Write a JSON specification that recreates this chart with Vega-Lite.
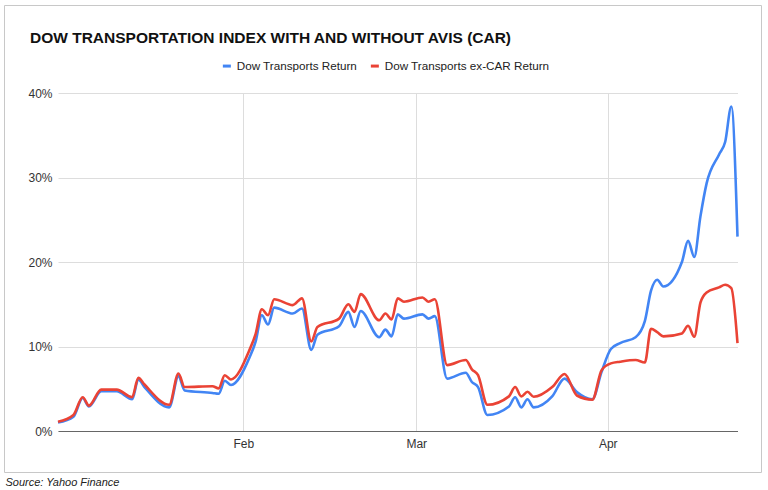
{
  "$schema": "https://vega.github.io/schema/vega-lite/v6.json",
  "autosize": "none",
  "width": 757,
  "height": 467,
  "padding": {"left": 4, "top": 5, "right": 7, "bottom": 18},
  "background": "white",
  "config": {
    "view": {"stroke": "#c8c8c8", "strokeWidth": 1},
    "font": "Liberation Sans"
  },
  "title": {
    "text": "DOW TRANSPORTATION INDEX WITH AND WITHOUT AVIS (CAR)",
    "anchor": "start",
    "frame": "group",
    "orient": "top",
    "offset": 0,
    "dx": 26,
    "dy": 53,
    "baseline": "alphabetic",
    "font": "Liberation Sans",
    "fontSize": 15.5,
    "fontWeight": "bold",
    "color": "#111111"
  },
  "data": {
    "values": [
      {"date": "2021-01-02T00:00:00Z", "Dow Transports Return": 1.0, "Dow Transports ex-CAR Return": 1.1},
      {"date": "2021-01-04T12:00:00Z", "Dow Transports Return": 1.7, "Dow Transports ex-CAR Return": 1.9},
      {"date": "2021-01-06T00:00:00Z", "Dow Transports Return": 3.9, "Dow Transports ex-CAR Return": 4.0},
      {"date": "2021-01-07T00:00:00Z", "Dow Transports Return": 2.9, "Dow Transports ex-CAR Return": 3.0},
      {"date": "2021-01-09T00:00:00Z", "Dow Transports Return": 4.7, "Dow Transports ex-CAR Return": 4.9},
      {"date": "2021-01-11T12:00:00Z", "Dow Transports Return": 4.7, "Dow Transports ex-CAR Return": 4.9},
      {"date": "2021-01-14T00:00:00Z", "Dow Transports Return": 3.75, "Dow Transports ex-CAR Return": 4.0},
      {"date": "2021-01-15T00:00:00Z", "Dow Transports Return": 6.1, "Dow Transports ex-CAR Return": 6.3},
      {"date": "2021-01-16T00:00:00Z", "Dow Transports Return": 5.2, "Dow Transports ex-CAR Return": 5.5},
      {"date": "2021-01-20T00:00:00Z", "Dow Transports Return": 2.8, "Dow Transports ex-CAR Return": 3.1},
      {"date": "2021-01-21T12:00:00Z", "Dow Transports Return": 6.5, "Dow Transports ex-CAR Return": 6.8},
      {"date": "2021-01-22T12:00:00Z", "Dow Transports Return": 4.8, "Dow Transports ex-CAR Return": 5.2},
      {"date": "2021-01-27T00:00:00Z", "Dow Transports Return": 4.5, "Dow Transports ex-CAR Return": 5.3},
      {"date": "2021-01-28T00:00:00Z", "Dow Transports Return": 4.4, "Dow Transports ex-CAR Return": 5.05},
      {"date": "2021-01-29T00:00:00Z", "Dow Transports Return": 5.95, "Dow Transports ex-CAR Return": 6.6},
      {"date": "2021-01-30T00:00:00Z", "Dow Transports Return": 5.45, "Dow Transports ex-CAR Return": 6.1},
      {"date": "2021-02-02T00:00:00Z", "Dow Transports Return": 8.7, "Dow Transports ex-CAR Return": 9.6},
      {"date": "2021-02-03T00:00:00Z", "Dow Transports Return": 10.6, "Dow Transports ex-CAR Return": 11.5},
      {"date": "2021-02-04T00:00:00Z", "Dow Transports Return": 13.7, "Dow Transports ex-CAR Return": 14.4},
      {"date": "2021-02-05T00:00:00Z", "Dow Transports Return": 12.6, "Dow Transports ex-CAR Return": 13.7},
      {"date": "2021-02-06T00:00:00Z", "Dow Transports Return": 14.6, "Dow Transports ex-CAR Return": 15.6},
      {"date": "2021-02-09T00:00:00Z", "Dow Transports Return": 13.9, "Dow Transports ex-CAR Return": 14.9},
      {"date": "2021-02-10T12:00:00Z", "Dow Transports Return": 14.5, "Dow Transports ex-CAR Return": 15.7},
      {"date": "2021-02-12T00:00:00Z", "Dow Transports Return": 9.6, "Dow Transports ex-CAR Return": 10.6},
      {"date": "2021-02-13T00:00:00Z", "Dow Transports Return": 11.4, "Dow Transports ex-CAR Return": 12.3},
      {"date": "2021-02-16T12:00:00Z", "Dow Transports Return": 12.4, "Dow Transports ex-CAR Return": 13.3},
      {"date": "2021-02-18T00:00:00Z", "Dow Transports Return": 14.1, "Dow Transports ex-CAR Return": 15.0},
      {"date": "2021-02-19T00:00:00Z", "Dow Transports Return": 12.3, "Dow Transports ex-CAR Return": 14.1},
      {"date": "2021-02-20T00:00:00Z", "Dow Transports Return": 14.2, "Dow Transports ex-CAR Return": 16.2},
      {"date": "2021-02-23T00:00:00Z", "Dow Transports Return": 11.1, "Dow Transports ex-CAR Return": 13.1},
      {"date": "2021-02-24T00:00:00Z", "Dow Transports Return": 12.0, "Dow Transports ex-CAR Return": 13.9},
      {"date": "2021-02-25T00:00:00Z", "Dow Transports Return": 11.2, "Dow Transports ex-CAR Return": 13.2},
      {"date": "2021-02-26T00:00:00Z", "Dow Transports Return": 13.8, "Dow Transports ex-CAR Return": 15.7},
      {"date": "2021-02-27T00:00:00Z", "Dow Transports Return": 13.3, "Dow Transports ex-CAR Return": 15.3},
      {"date": "2021-03-02T00:00:00Z", "Dow Transports Return": 13.8, "Dow Transports ex-CAR Return": 15.8},
      {"date": "2021-03-03T00:00:00Z", "Dow Transports Return": 13.3, "Dow Transports ex-CAR Return": 15.3},
      {"date": "2021-03-04T00:00:00Z", "Dow Transports Return": 13.6, "Dow Transports ex-CAR Return": 15.6},
      {"date": "2021-03-06T00:00:00Z", "Dow Transports Return": 6.2, "Dow Transports ex-CAR Return": 7.8},
      {"date": "2021-03-09T00:00:00Z", "Dow Transports Return": 6.9, "Dow Transports ex-CAR Return": 8.4},
      {"date": "2021-03-10T00:00:00Z", "Dow Transports Return": 5.8, "Dow Transports ex-CAR Return": 7.3},
      {"date": "2021-03-11T00:00:00Z", "Dow Transports Return": 5.2, "Dow Transports ex-CAR Return": 6.6},
      {"date": "2021-03-12T12:00:00Z", "Dow Transports Return": 1.9, "Dow Transports ex-CAR Return": 3.1},
      {"date": "2021-03-16T00:00:00Z", "Dow Transports Return": 2.9, "Dow Transports ex-CAR Return": 4.1},
      {"date": "2021-03-17T00:00:00Z", "Dow Transports Return": 4.0, "Dow Transports ex-CAR Return": 5.2},
      {"date": "2021-03-18T00:00:00Z", "Dow Transports Return": 2.8, "Dow Transports ex-CAR Return": 4.1},
      {"date": "2021-03-19T00:00:00Z", "Dow Transports Return": 3.75, "Dow Transports ex-CAR Return": 4.65},
      {"date": "2021-03-20T00:00:00Z", "Dow Transports Return": 2.8, "Dow Transports ex-CAR Return": 4.05},
      {"date": "2021-03-23T00:00:00Z", "Dow Transports Return": 4.1, "Dow Transports ex-CAR Return": 5.2},
      {"date": "2021-03-25T00:00:00Z", "Dow Transports Return": 6.2, "Dow Transports ex-CAR Return": 6.75},
      {"date": "2021-03-27T00:00:00Z", "Dow Transports Return": 4.6, "Dow Transports ex-CAR Return": 4.2},
      {"date": "2021-03-29T12:00:00Z", "Dow Transports Return": 3.75, "Dow Transports ex-CAR Return": 3.7},
      {"date": "2021-03-31T00:00:00Z", "Dow Transports Return": 7.0, "Dow Transports ex-CAR Return": 7.2},
      {"date": "2021-04-01T12:00:00Z", "Dow Transports Return": 9.7, "Dow Transports ex-CAR Return": 8.0},
      {"date": "2021-04-03T00:00:00Z", "Dow Transports Return": 10.4, "Dow Transports ex-CAR Return": 8.2},
      {"date": "2021-04-05T12:00:00Z", "Dow Transports Return": 11.1, "Dow Transports ex-CAR Return": 8.4},
      {"date": "2021-04-07T00:00:00Z", "Dow Transports Return": 13.0, "Dow Transports ex-CAR Return": 8.1},
      {"date": "2021-04-08T00:00:00Z", "Dow Transports Return": 16.6, "Dow Transports ex-CAR Return": 12.1},
      {"date": "2021-04-09T00:00:00Z", "Dow Transports Return": 17.9, "Dow Transports ex-CAR Return": 11.7},
      {"date": "2021-04-10T00:00:00Z", "Dow Transports Return": 17.1, "Dow Transports ex-CAR Return": 11.2},
      {"date": "2021-04-13T00:00:00Z", "Dow Transports Return": 20.0, "Dow Transports ex-CAR Return": 11.55},
      {"date": "2021-04-14T00:00:00Z", "Dow Transports Return": 22.5, "Dow Transports ex-CAR Return": 12.45},
      {"date": "2021-04-15T00:00:00Z", "Dow Transports Return": 20.6, "Dow Transports ex-CAR Return": 11.15},
      {"date": "2021-04-16T00:00:00Z", "Dow Transports Return": 25.4, "Dow Transports ex-CAR Return": 15.2},
      {"date": "2021-04-17T00:00:00Z", "Dow Transports Return": 29.3, "Dow Transports ex-CAR Return": 16.4},
      {"date": "2021-04-19T00:00:00Z", "Dow Transports Return": 32.7, "Dow Transports ex-CAR Return": 17.0},
      {"date": "2021-04-20T00:00:00Z", "Dow Transports Return": 34.2, "Dow Transports ex-CAR Return": 17.3},
      {"date": "2021-04-21T00:00:00Z", "Dow Transports Return": 38.4, "Dow Transports ex-CAR Return": 16.9},
      {"date": "2021-04-22T00:00:00Z", "Dow Transports Return": 23.0, "Dow Transports ex-CAR Return": 10.4}
    ]
  },
  "transform": [
    {"fold": ["Dow Transports Return", "Dow Transports ex-CAR Return"], "as": ["series", "value"]}
  ],
  "resolve": {"axis": {"x": "independent"}},
  "layer": [
    {
      "mark": {"type": "line", "interpolate": "monotone", "strokeWidth": 2.6, "opacity": 0},
      "encoding": {
        "x": {
          "field": "date",
          "type": "temporal",
          "scale": {"type": "utc", "nice": false, "range": [54, 733.5]},
          "axis": {
            "orient": "top",
            "title": null,
            "offset": 0,
            "labels": false,
            "ticks": false,
            "domain": false,
            "tickCount": {"interval": "month", "step": 1},
            "grid": true,
            "gridColor": "#dddddd",
            "gridWidth": 1
          }
        },
        "y": {
          "field": "value",
          "type": "quantitative",
          "scale": {"domain": [0, 40], "nice": false, "range": [426, 88]},
          "axis": {
            "title": null,
            "offset": -54,
            "values": [0, 10, 20, 30, 40],
            "labelExpr": "datum.value + '%'",
            "ticks": false,
            "domain": false,
            "labelFontSize": 12,
            "labelColor": "#333333",
            "labelPadding": 6,
            "grid": true,
            "gridColor": "#dddddd",
            "gridWidth": 1
          }
        },
        "detail": {"field": "series", "type": "nominal"}
      }
    },
    {
      "mark": {"type": "line", "interpolate": "monotone", "strokeWidth": 2.6},
      "encoding": {
        "x": {
          "field": "date",
          "type": "temporal",
          "axis": {
            "orient": "bottom",
            "title": "Source: Yahoo Finance",
            "titleFont": "Liberation Sans",
            "titleFontSize": 11,
            "titleFontStyle": "italic",
            "titleFontWeight": "normal",
            "titleColor": "#222222",
            "titleAlign": "left",
            "titleBaseline": "alphabetic",
            "titleX": 1,
            "titleY": 54,
            "offset": -41,
            "labelExpr": "utcFormat(datum.value, '%b')",
            "tickCount": {"interval": "month", "step": 1},
            "ticks": false,
            "labelFontSize": 12,
            "labelColor": "#333333",
            "labelPadding": 7,
            "domain": true,
            "domainColor": "#666666",
            "domainWidth": 1,
            "grid": false
          }
        },
        "y": {"field": "value", "type": "quantitative"},
        "color": {
          "field": "series",
          "type": "nominal",
          "scale": {
            "domain": ["Dow Transports Return", "Dow Transports ex-CAR Return"],
            "range": ["#4285F4", "#EA4335"]
          },
          "legend": {
            "title": null,
            "orient": "none",
            "direction": "horizontal",
            "legendX": 217,
            "legendY": 55,
            "padding": 0,
            "symbolType": "stroke",
            "symbolSize": 64,
            "symbolStrokeWidth": 3,
            "labelFontSize": 11.7,
            "labelColor": "#222222",
            "labelOffset": 4,
            "columnPadding": 6,
            "labelLimit": 300
          }
        }
      }
    }
  ]
}
